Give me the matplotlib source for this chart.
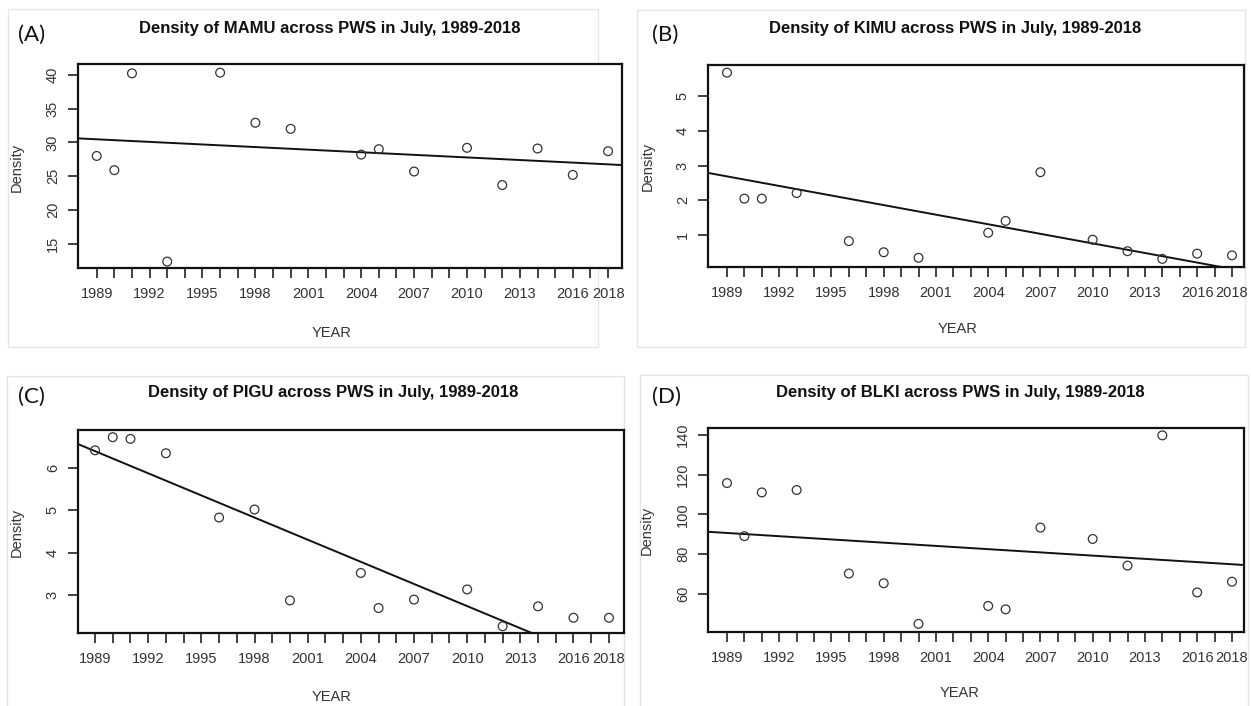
import numpy as np
import matplotlib.pyplot as plt
from matplotlib.patches import Rectangle

plt.rcParams['font.family'] = ['Liberation Sans', 'DejaVu Sans']

# survey years (same for all four species)
years = [1989, 1990, 1991, 1993, 1996, 1998, 2000, 2004, 2005, 2007,
         2010, 2012, 2014, 2016, 2018]

mamu = [28.0, 25.9, 40.2, 12.4, 40.3, 32.9, 32.0, 28.2, 29.0, 25.7,
        29.2, 23.7, 29.1, 25.2, 28.7]
kimu = [5.67, 2.05, 2.05, 2.21, 0.83, 0.51, 0.35, 1.07, 1.41, 2.81,
        0.87, 0.54, 0.32, 0.47, 0.42]
pigu = [6.42, 6.73, 6.69, 6.35, 4.83, 5.02, 2.87, 3.52, 2.69, 2.89,
        3.13, 2.26, 2.73, 2.46, 2.46]
blki = [115.8, 89.1, 111.1, 112.3, 70.3, 65.4, 45.0, 54.0, 52.3, 93.4,
        87.7, 74.3, 139.8, 60.8, 66.2]

# fitted trend, read at 1989 and 2018
trend_years = [1989, 2018]
trend_mamu = [30.46, 26.76]
trend_kimu = [2.69, 0.03]
trend_pigu = [6.40, 1.34]
trend_blki = [90.71, 74.97]

tick_years = list(range(1989, 2019))
label_years = [1989, 1992, 1995, 1998, 2001, 2004, 2007, 2010, 2013, 2016, 2018]

W, H = 1251, 706
fig = plt.figure(figsize=(W / 100, H / 100), dpi=100)


def px(x0, y0, x1, y1):
    # pixel box (top-left origin) -> figure fraction rect
    return [x0 / W, 1 - y1 / H, (x1 - x0) / W, (y1 - y0) / H]


panels = [
    dict(name='MAMU', tag='(A)', y=mamu, tr=trend_mamu, box=(78, 64, 622, 268),
         xlim=(1987.94, 2018.79), ylim=(11.45, 41.58), yt=[15, 20, 25, 30, 35, 40],
         frame=(8, 9, 598, 347), title=(330, 28), tagpos=(18, 35), xlab=(332, 333),
         ylab=(17, 167)),
    dict(name='KIMU', tag='(B)', y=kimu, tr=trend_kimu, box=(708, 65, 1244, 267),
         xlim=(1987.91, 2018.69), ylim=(0.086, 5.89), yt=[1, 2, 3, 4, 5],
         frame=(637, 10, 1245, 347), title=(955, 28), tagpos=(652, 35), xlab=(958, 329),
         ylab=(648, 166)),
    dict(name='PIGU', tag='(C)', y=pigu, tr=trend_pigu, box=(78, 430, 624, 633),
         xlim=(1988.04, 2018.85), ylim=(2.10, 6.90), yt=[3, 4, 5, 6],
         frame=(7, 376, 624, 712), title=(333, 393), tagpos=(18, 397), xlab=(332, 697),
         ylab=(17, 532)),
    dict(name='BLKI', tag='(D)', y=blki, tr=trend_blki, box=(708, 428, 1244, 632),
         xlim=(1987.91, 2018.69), ylim=(40.9, 143.5), yt=[60, 80, 100, 120, 140],
         frame=(640, 375, 1248, 712), title=(960, 392), tagpos=(652, 397), xlab=(960, 693),
         ylab=(647, 530)),
]

for p in panels:
    # faint screenshot frame around each panel
    fx0, fy0, fx1, fy1 = p['frame']
    fig.patches.append(Rectangle((fx0 / W, 1 - fy1 / H), (fx1 - fx0) / W, (fy1 - fy0) / H,
                                 transform=fig.transFigure, fill=False,
                                 ec='#e6e6e6', lw=1, zorder=-1))

    ax = fig.add_axes(px(*p['box']))
    ax.scatter(years, p['y'], s=40, facecolors='none', edgecolors='#333333',
               linewidths=0.9, zorder=3)
    ax.axline((trend_years[0], p['tr'][0]), (trend_years[1], p['tr'][1]),
              color='#111111', lw=1.4)
    ax.set_xlim(*p['xlim'])
    ax.set_ylim(*p['ylim'])
    ax.set_xticks(tick_years)
    ax.set_xticklabels([str(t) if t in label_years else '' for t in tick_years])
    ax.set_yticks(p['yt'])
    ax.set_yticklabels([str(t) for t in p['yt']], rotation=90, va='center')
    ax.tick_params(axis='both', length=7, width=1.2, color='#222222',
                   labelsize=10.5, labelcolor='#333333')
    ax.tick_params(axis='x', pad=7)
    ax.tick_params(axis='y', pad=6)
    for s in ax.spines.values():
        s.set_linewidth(1.6)
        s.set_color('#111111')

    tx, ty = p['title']
    fig.text(tx / W, 1 - ty / H, 'Density of %s across PWS in July, 1989-2018' % p['name'],
             ha='center', va='center', fontsize=12, fontweight='bold', color='#111111')
    gx, gy = p['tagpos']
    fig.text(gx / W, 1 - gy / H, p['tag'], ha='left', va='center', fontsize=16,
             family=['Lato', 'DejaVu Sans'], color='#111111')
    lx, ly = p['xlab']
    fig.text(lx / W, 1 - ly / H, 'YEAR', ha='center', va='center', fontsize=10.5,
             color='#333333')
    yx, yy = p['ylab']
    fig.text(yx / W, 1 - yy / H, 'Density', ha='center', va='center', fontsize=10.5,
             rotation=90, color='#333333')

fig.savefig('out.png', dpi=100, facecolor='white')
